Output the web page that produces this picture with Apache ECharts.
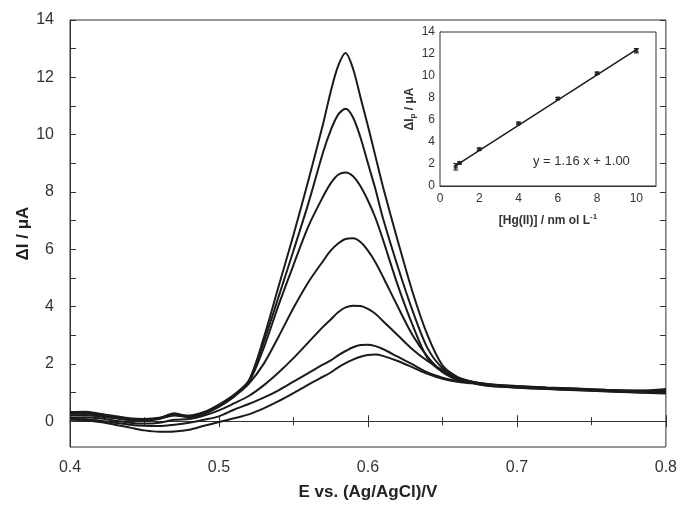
<!DOCTYPE html>
<html>
<head>
<meta charset="utf-8">
<script src="https://cdn.jsdelivr.net/npm/echarts@6/dist/echarts.min.js"></script>
<style>
  html, body { margin: 0; padding: 0; background: #fff; }
  #chart { width: 680px; height: 506px; }
</style>
</head>
<body>
<div id="chart"></div>
<script>
// potential grid (V vs Ag/AgCl) shared by every voltammogram
const potential = [0.40, 0.41, 0.42, 0.43, 0.44, 0.45, 0.46, 0.47, 0.48, 0.49, 0.50, 0.51, 0.52, 0.53, 0.54, 0.55, 0.56, 0.57,
  0.575, 0.58, 0.585, 0.59, 0.595, 0.60, 0.605, 0.61,
  0.62, 0.63, 0.64, 0.65, 0.66, 0.67,
  0.68, 0.69, 0.70, 0.72, 0.74, 0.76, 0.78, 0.79, 0.80]

// ΔI (µA) per concentration, highest first
const curve1 = [0.32, 0.33, 0.26, 0.18, 0.10, 0.08, 0.12, 0.24, 0.20, 0.32, 0.58, 0.92, 1.42, 2.9, 4.7, 6.5, 8.4, 10.4,
  11.5, 12.4, 12.85, 12.3, 11.3, 10.3, 9.25, 8.2,
  6.3, 4.5, 3.0, 1.95, 1.55, 1.38,
  1.28, 1.24, 1.22, 1.17, 1.13, 1.09, 1.06, 1.08, 1.12]
const curve2 = [0.28, 0.30, 0.24, 0.15, 0.07, 0.05, 0.10, 0.22, 0.18, 0.30, 0.56, 0.90, 1.38, 2.75, 4.34, 5.95, 7.6, 9.4,
  10.15, 10.7, 10.9, 10.6, 9.9, 9.0, 8.1, 7.1,
  5.4, 3.85, 2.55, 1.85, 1.52, 1.36,
  1.27, 1.23, 1.20, 1.15, 1.12, 1.08, 1.04, 1.05, 1.10]
const curve3 = [0.25, 0.27, 0.20, 0.12, 0.05, 0.04, 0.10, 0.28, 0.16, 0.28, 0.54, 0.88, 1.35, 2.55, 4.05, 5.45, 6.8, 7.85,
  8.3, 8.6, 8.68, 8.55, 8.2, 7.7, 7.1, 6.35,
  4.75, 3.35, 2.2, 1.72, 1.50, 1.37,
  1.30, 1.25, 1.21, 1.16, 1.10, 1.06, 1.02, 1.03, 1.06]
const curve4 = [0.20, 0.22, 0.16, 0.10, 0.03, 0.02, 0.08, 0.20, 0.14, 0.26, 0.50, 0.85, 1.30, 2.0, 2.95, 3.95, 4.85, 5.6,
  5.95, 6.2, 6.36, 6.38, 6.25, 5.95, 5.55, 5.05,
  4.0, 3.0, 2.25, 1.72, 1.45, 1.35,
  1.26, 1.22, 1.19, 1.14, 1.11, 1.07, 1.03, 1.02, 1.04]
const curve5 = [0.12, 0.14, 0.10, 0.02, -0.05, -0.08, -0.05, 0.05, 0.08, 0.20, 0.38, 0.62, 0.88, 1.25, 1.7, 2.2, 2.75, 3.3,
  3.55, 3.8, 3.97, 4.03, 4.02, 3.92, 3.75, 3.5,
  3.0, 2.5, 2.1, 1.78, 1.52, 1.38,
  1.30, 1.26, 1.23, 1.18, 1.14, 1.10, 1.07, 1.06, 1.00]
const curve6 = [0.10, 0.08, 0.02, -0.05, -0.12, -0.16, -0.17, -0.12, -0.05, 0.05, 0.17, 0.40, 0.60, 0.82, 1.08, 1.38, 1.68, 1.98,
  2.12, 2.3, 2.45, 2.58, 2.66, 2.67, 2.62, 2.52,
  2.25, 1.98, 1.70, 1.52, 1.40, 1.33,
  1.25, 1.21, 1.18, 1.13, 1.09, 1.05, 1.01, 1.00, 0.98]
const curve7 = [0.05, 0.03, -0.03, -0.12, -0.22, -0.32, -0.37, -0.36, -0.30, -0.16, -0.03, 0.10, 0.24, 0.45, 0.70, 0.98, 1.28, 1.56,
  1.70, 1.88, 2.03, 2.15, 2.25, 2.31, 2.33, 2.28,
  2.10, 1.88, 1.65, 1.48, 1.38, 1.32,
  1.24, 1.20, 1.17, 1.12, 1.08, 1.04, 1.00, 0.98, 0.97]
const curves = [curve1, curve2, curve3, curve4, curve5, curve6, curve7]

// main axis ticks
const mainYLabels = [0, 2, 4, 6, 8, 10, 12, 14]
const mainYTicks = [0, 1, 2, 3, 4, 5, 6, 7, 8, 9, 10, 11, 12, 13, 14]

// inset: calibration plot
const hgConc = [0.8, 1, 2, 4, 6, 8, 10]
const peakCurrent = [1.75, 2.1, 3.35, 5.7, 7.95, 10.25, 12.3]
const peakError = [0.3, 0.1, 0.1, 0.1, 0.1, 0.1, 0.2]
const fitX = [0.8, 10]
const fitY = [1.85, 12.4]
const insetXLabels = [0, 2, 4, 6, 8, 10]
const insetYLabels = [0, 2, 4, 6, 8, 10, 12, 14]

const FONT = 'Liberation Sans, Arial, sans-serif'
const INK = '#1b1b1b'

const chart = echarts.init(document.getElementById('chart'), null, { renderer: 'canvas' })

// voltammograms as line series
const curveSeries = curves.map((c, i) => ({
  name: 'c' + (i + 1),
  type: 'line',
  xAxisIndex: 0,
  yAxisIndex: 0,
  data: potential.map((p, k) => [p, c[k]]),
  showSymbol: false,
  smooth: 0.3,
  lineStyle: { color: INK, width: 2 },
  silent: true,
  z: 3
}))

const option = {
  backgroundColor: '#fff',
  animation: false,
  textStyle: { fontFamily: FONT },
  grid: [
    { left: 70, right: 11, top: 20, bottom: 59, show: true, borderColor: '#333', borderWidth: 1, backgroundColor: 'transparent' },
    { left: 440, right: 24, top: 32, bottom: 320, show: true, borderColor: '#333', borderWidth: 1, backgroundColor: '#fff', z: 5 }
  ],
  xAxis: [
    {
      gridIndex: 0, type: 'value', min: 0.4, max: 0.8, interval: 0.1,
      name: 'E vs. (Ag/AgCl)/V', nameLocation: 'middle', nameGap: 37,
      nameTextStyle: { fontSize: 17, fontWeight: 'bold', color: '#222', fontFamily: FONT },
      axisLine: { lineStyle: { color: '#333' } },
      axisTick: { inside: true, length: 6, lineStyle: { color: '#333' } },
      minorTick: { show: true, splitNumber: 2, length: 4, lineStyle: { color: '#333' } },
      axisLabel: { fontSize: 16, color: '#333', margin: 13, formatter: v => v.toFixed(1) },
      splitLine: { show: false }
    },
    {
      gridIndex: 0, type: 'value', position: 'top', min: 0.4, max: 0.8, interval: 0.1,
      axisLine: { show: false },
      axisTick: { inside: true, length: 6, lineStyle: { color: '#333' } },
      minorTick: { show: true, splitNumber: 2, length: 4, lineStyle: { color: '#333' } },
      axisLabel: { show: false },
      splitLine: { show: false }
    },
    {
      gridIndex: 1, type: 'value', min: 0, max: 11, interval: 1,
      name: '{a|[Hg(II)] / nm ol L}{s|-1}', nameLocation: 'middle', nameGap: 27,
      nameTextStyle: {
        rich: {
          a: { fontSize: 12, fontWeight: 'bold', color: '#333', fontFamily: FONT, lineHeight: 15 },
          s: { fontSize: 8, fontWeight: 'bold', color: '#333', fontFamily: FONT, verticalAlign: 'top', lineHeight: 15 }
        }
      },
      axisLine: { lineStyle: { color: '#333' } },
      axisTick: { inside: true, length: 3, customValues: insetXLabels, lineStyle: { color: '#333' } },
      axisLabel: { fontSize: 12, color: '#333', margin: 7, customValues: insetXLabels },
      splitLine: { show: false }
    }
  ],
  yAxis: [
    {
      gridIndex: 0, type: 'value', min: -0.9, max: 14,
      name: 'ΔI / μA', nameLocation: 'middle', nameGap: 38, nameMoveOverlap: false,
      nameTextStyle: { fontSize: 17, fontWeight: 'bold', color: '#222', fontFamily: FONT },
      axisLine: { lineStyle: { color: '#333' } },
      axisTick: { inside: true, length: 6, customValues: mainYTicks, lineStyle: { color: '#333' } },
      axisLabel: { fontSize: 16, color: '#333', margin: 16, customValues: mainYLabels },
      splitLine: { show: false }
    },
    {
      gridIndex: 0, type: 'value', position: 'right', min: -0.9, max: 14,
      axisLine: { show: false },
      axisTick: { inside: true, length: 6, customValues: mainYTicks, lineStyle: { color: '#333' } },
      axisLabel: { show: false },
      splitLine: { show: false }
    },
    {
      gridIndex: 1, type: 'value', min: 0, max: 14, interval: 2,
      name: '{a|ΔI}{s|p}{a| / μA}', nameLocation: 'middle', nameGap: 23,
      nameTextStyle: {
        rich: {
          a: { fontSize: 12, fontWeight: 'bold', color: '#333', fontFamily: FONT, lineHeight: 15 },
          s: { fontSize: 8, fontWeight: 'bold', color: '#333', fontFamily: FONT, verticalAlign: 'bottom', lineHeight: 15 }
        }
      },
      axisLine: { lineStyle: { color: '#333' } },
      axisTick: { inside: true, length: 3, lineStyle: { color: '#333' } },
      axisLabel: { fontSize: 12, color: '#333', margin: 5, customValues: insetYLabels },
      splitLine: { show: false }
    }
  ],
  graphic: [
    {
      type: 'text', left: 533, top: 155, z: 10,
      style: { text: 'y = 1.16 x + 1.00', fontSize: 13, fill: '#333', fontFamily: FONT }
    }
  ],
  series: [
    ...curveSeries,
    {
      name: 'fit', type: 'line', xAxisIndex: 2, yAxisIndex: 2,
      data: fitX.map((x, i) => [x, fitY[i]]),
      showSymbol: false, lineStyle: { color: INK, width: 1.5 }, silent: true, z: 6
    },
    {
      name: 'points', type: 'scatter', xAxisIndex: 2, yAxisIndex: 2,
      data: hgConc.map((x, i) => [x, peakCurrent[i]]),
      symbol: 'rect', symbolSize: 4, itemStyle: { color: INK }, silent: true, z: 7
    },
    {
      // vertical error bars with small caps
      name: 'err', type: 'custom', xAxisIndex: 2, yAxisIndex: 2,
      data: hgConc.map((x, i) => [x, peakCurrent[i] - peakError[i], peakCurrent[i] + peakError[i]]),
      renderItem: (params, api) => {
        const lo = api.coord([api.value(0), api.value(1)])
        const hi = api.coord([api.value(0), api.value(2)])
        const cap = 2.5
        const style = { stroke: INK, lineWidth: 1 }
        return {
          type: 'group',
          children: [
            { type: 'line', shape: { x1: lo[0], y1: lo[1], x2: hi[0], y2: hi[1] }, style },
            { type: 'line', shape: { x1: lo[0] - cap, y1: lo[1], x2: lo[0] + cap, y2: lo[1] }, style },
            { type: 'line', shape: { x1: hi[0] - cap, y1: hi[1], x2: hi[0] + cap, y2: hi[1] }, style }
          ]
        }
      },
      silent: true, z: 7
    }
  ]
}

chart.setOption(option)
</script>
</body>
</html>
